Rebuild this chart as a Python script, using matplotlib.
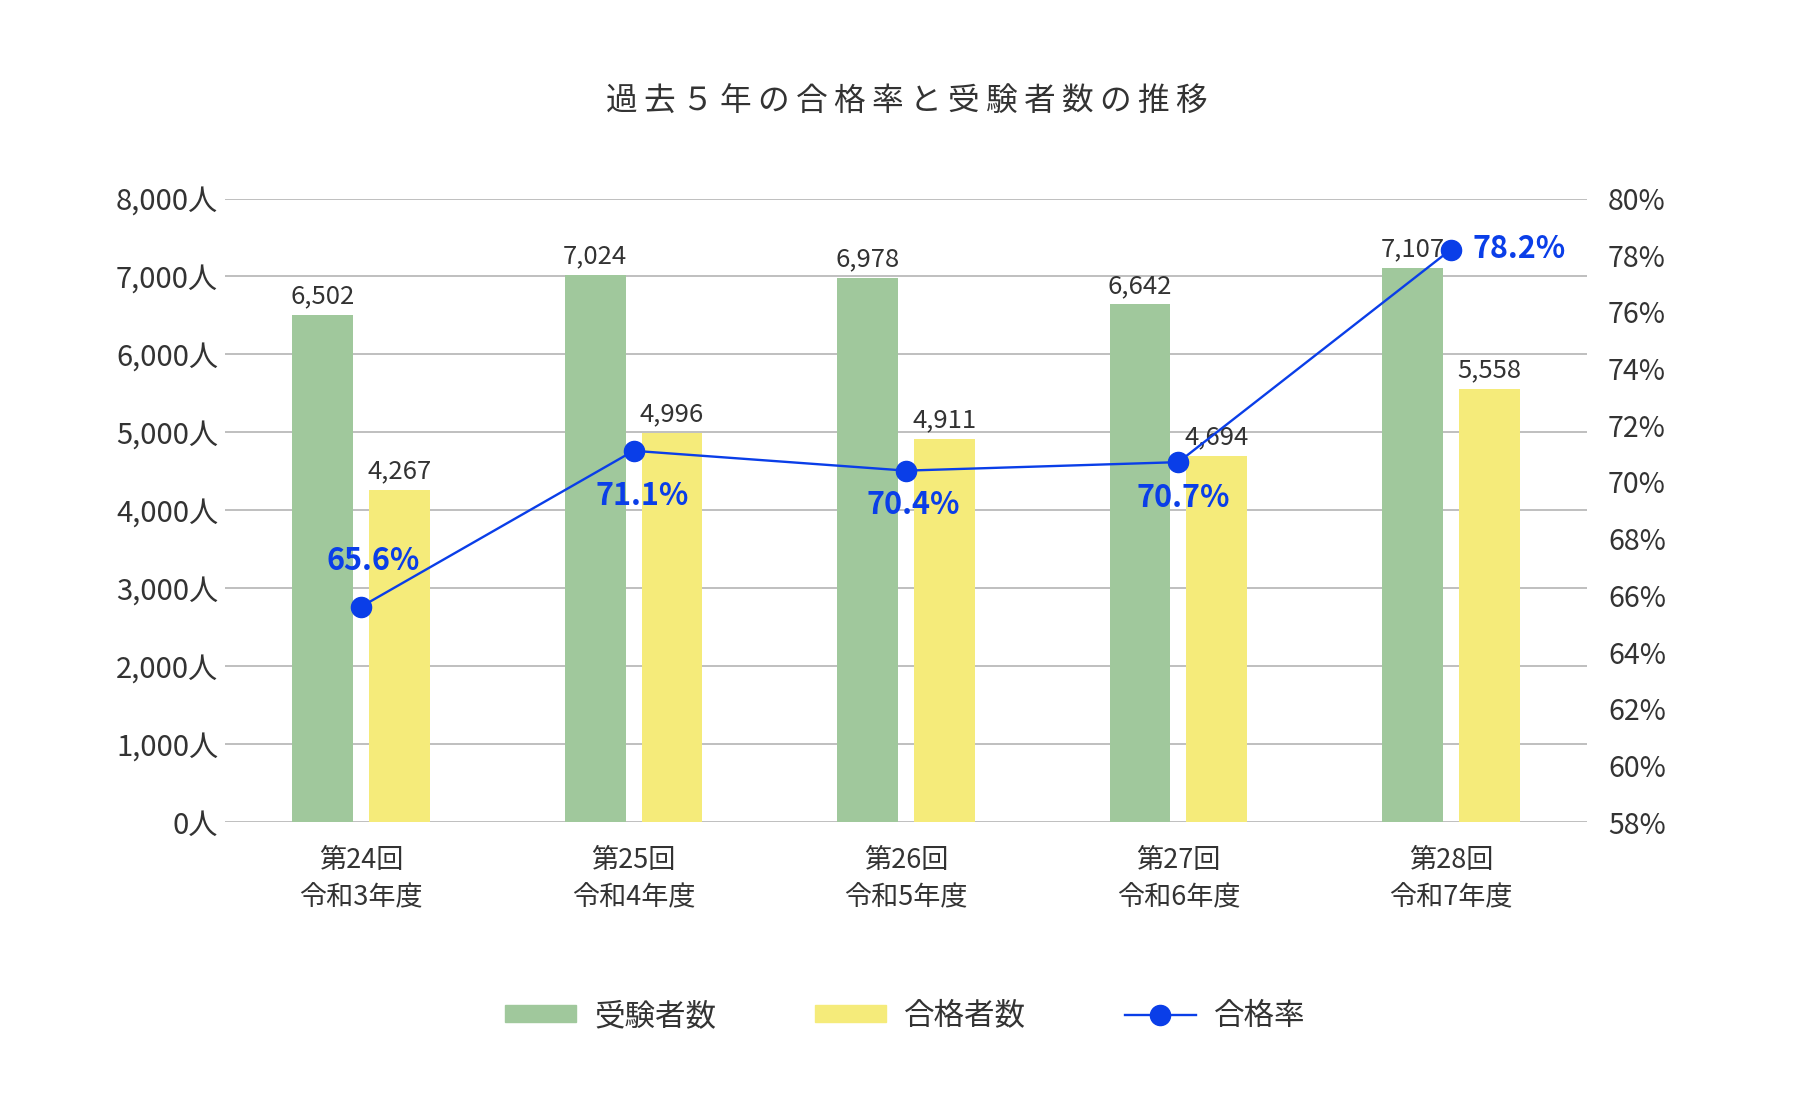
import numpy as np
import matplotlib
matplotlib.use("Agg")
import matplotlib.pyplot as plt
from matplotlib.ticker import FuncFormatter

plt.rcParams['font.family'] = ['Noto Sans CJK JP', 'DejaVu Sans']

title = "過去５年の合格率と受験者数の推移"
categories = ["第24回\n令和3年度", "第25回\n令和4年度", "第26回\n令和5年度",
              "第27回\n令和6年度", "第28回\n令和7年度"]
examinees = [6502, 7024, 6978, 6642, 7107]
passers = [4267, 4996, 4911, 4694, 5558]
pass_rate = [65.6, 71.1, 70.4, 70.7, 78.2]
series_names = ["受験者数", "合格者数", "合格率"]

green = "#a0c89c"
yellow = "#f5eb7a"
blue = "#0a3ee8"
text_col = "#333333"
grid_col = "#b4b4b4"

# where each rate label sits relative to its marker (pixels)
rate_offsets = [(12, 46), (9, -45), (7, -34), (5, -36), (22, 1)]
rate_align = ["center", "center", "center", "center", "left"]

fig = plt.figure(figsize=(18, 11.18), dpi=100)
ax = fig.add_axes([0.125, 0.2647, 0.8817 - 0.125, 0.8224 - 0.2647])
ax2 = ax.twinx()

x = np.arange(len(categories))
w = 0.223
off = 0.141
b1 = ax.bar(x - off, examinees, w, color=green, zorder=2)
b2 = ax.bar(x + off, passers, w, color=yellow, zorder=2)
ax.bar_label(b1, labels=[f"{v:,}" for v in examinees], padding=4,
             fontsize=18.5, color=text_col)
ax.bar_label(b2, labels=[f"{v:,}" for v in passers], padding=4,
             fontsize=18.5, color=text_col)

ax.set_xlim(-0.5, len(categories) - 0.5)
ax.set_ylim(0, 8000)
ax.set_yticks(range(0, 8001, 1000))
ax.yaxis.set_major_formatter(FuncFormatter(lambda v, p: f"{int(v):,}人"))
ax.set_xticks(x)
ax.set_xticklabels(categories, fontsize=19.5, color=text_col, linespacing=1.5)
ax.grid(axis="y", color=grid_col, linewidth=1.2)
ax.set_axisbelow(True)
ax.tick_params(axis="y", length=0, pad=5, labelsize=21, labelcolor=text_col)
ax.tick_params(axis="x", length=0, pad=18)
for s in ax.spines.values():
    s.set_visible(False)

ax2.plot(x, pass_rate, color=blue, linewidth=1.7, marker="o", markersize=14.5,
         zorder=3)
ax2.set_ylim(58, 80)
ax2.set_yticks(range(58, 81, 2))
ax2.yaxis.set_major_formatter(FuncFormatter(lambda v, p: f"{int(v)}%"))
ax2.tick_params(axis="y", length=0, pad=15, labelsize=20.5, labelcolor=text_col)
for s in ax2.spines.values():
    s.set_visible(False)

for i, r in enumerate(pass_rate):
    ax2.annotate(f"{r}%", (x[i], r), xytext=rate_offsets[i],
                 textcoords="offset pixels", ha=rate_align[i], va="center",
                 fontsize=22, fontweight="bold", color=blue)

fig.text(0.504, 0.9085, "\u2009".join(title), ha="center", va="center",
         fontsize=22.8, color=text_col)

handles = [plt.Rectangle((0, 0), 1, 1, color=green),
           plt.Rectangle((0, 0), 1, 1, color=yellow),
           plt.Line2D([], [], color=blue, linewidth=1.7, marker="o", markersize=14.5)]
leg = fig.legend(handles, series_names, loc="center", bbox_to_anchor=(0.503, 0.091),
                 ncol=3, frameon=False, fontsize=22, handlelength=2.3,
                 handleheight=0.48, handletextpad=0.6, columnspacing=3.25)
for t in leg.get_texts():
    t.set_color(text_col)

fig.savefig("out.png", dpi=100)
